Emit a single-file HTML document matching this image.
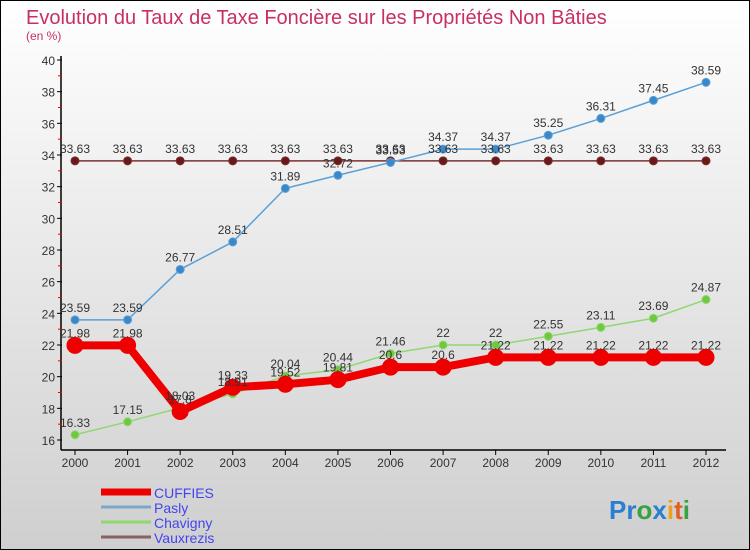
<!DOCTYPE html>
<html><head><meta charset="utf-8">
<style>
html,body{margin:0;padding:0}
body{width:750px;height:550px;overflow:hidden;font-family:"Liberation Sans",sans-serif}
#wrap{position:relative;width:748px;height:548px;border:1px solid #000;background:linear-gradient(#ffffff,#cfcfcf)}
svg{position:absolute;left:0;top:0}
</style></head><body>
<div id="wrap">
<svg id="chart" width="748" height="548">
<text x="25" y="23" font-size="20" fill="#c8305f">Evolution du Taux de Taxe Foncière sur les Propriétés Non Bâties</text>
<text x="25" y="39" font-size="12" fill="#c8305f">(en %)</text>
<text x="608" y="518" font-size="26" font-weight="bold"><tspan fill="#2a7fd0">Pr</tspan><tspan fill="#3aa040">o</tspan><tspan fill="#2a7fd0">x</tspan><tspan fill="#f0a020">i</tspan><tspan fill="#e06020">t</tspan><tspan fill="#3aa040">i</tspan></text>
</svg>
</div>
<script>
const years=[2000,2001,2002,2003,2004,2005,2006,2007,2008,2009,2010,2011,2012];
const yTicks=[16,18,20,22,24,26,28,30,32,34,36,38,40];
const cuffies=[21.98,21.98,17.8,19.33,19.52,19.81,20.6,20.6,21.22,21.22,21.22,21.22,21.22];
const pasly=[23.59,23.59,26.77,28.51,31.89,32.72,33.53,34.37,34.37,35.25,36.31,37.45,38.59];
const chavigny=[16.33,17.15,18.03,18.91,20.04,20.44,21.46,22,22,22.55,23.11,23.69,24.87];
const vauxrezis=[33.63,33.63,33.63,33.63,33.63,33.63,33.63,33.63,33.63,33.63,33.63,33.63,33.63];
const seriesNames=["CUFFIES","Pasly","Chavigny","Vauxrezis"];

const svg=document.getElementById('chart');
const NS="http://www.w3.org/2000/svg";
const X0=74,X1=705,Y40=59,Y16=439;
function xs(i){return X0+(X1-X0)*i/(years.length-1);}
function ys(v){return Y16-(v-16)*(Y16-Y40)/24;}
function mk(tag,a){const e=document.createElementNS(NS,tag);for(const k in a)e.setAttribute(k,a[k]);svg.appendChild(e);return e;}

// axes
let ax=mk('line',{x1:60,y1:55,x2:60,y2:449,stroke:'#000','stroke-width':1.5});


let bx=mk('line',{x1:60,y1:449,x2:725,y2:449,stroke:'#000','stroke-width':1.5});


yTicks.forEach(v=>{
  const y=ys(v);
  mk('line',{x1:56,y1:y,x2:61,y2:y,stroke:'#000'});
  if(v<40)mk('line',{x1:57,y1:ys(v+1),x2:61,y2:ys(v+1),stroke:'#e00'});
  const t=mk('text',{x:54,y:y+5,'font-size':12,fill:'#333','text-anchor':'end'});
  t.textContent=v;
  
  
});
years.forEach((yr,i)=>{
  mk('line',{x1:xs(i),y1:449,x2:xs(i),y2:454,stroke:'#000'});
  const t=mk('text',{x:xs(i),y:466,'font-size':12,fill:'#333','text-anchor':'middle'});
  t.textContent=yr;
  
  
});

function draw(data,color,dot,w,r,name){
  const pl=mk('polyline',{points:data.map((v,i)=>xs(i)+','+ys(v)).join(' '),fill:'none',stroke:color,'stroke-width':w,'stroke-linejoin':'round'});
  
  
  data.forEach((v,i)=>{
    const c=mk('circle',{cx:xs(i),cy:ys(v),r:r,fill:dot,stroke:color,'stroke-width':1});
    
    
  });
}
function labels(data,name){
  data.forEach((v,i)=>{
    const t=mk('text',{x:xs(i),y:ys(v)-8,'font-size':12,fill:'#333','text-anchor':'middle'});
    t.textContent=v;
    
    
  });
}
draw(vauxrezis,'#7a3030','#6a1818',1.5,4,'vauxrezis');
draw(pasly,'#5aa0d8','#3a88c8',1.5,4,'pasly');
draw(chavigny,'#90d870','#70c840',1.5,4,'chavigny');
draw(cuffies,'#ee0000','#ee0000',8,8,'cuffies');
labels(vauxrezis,'vauxrezis');labels(pasly,'pasly');labels(chavigny,'chavigny');labels(cuffies,'cuffies');

// legend
const legColors=['#ee0000','#7aa8cc','#90d870','#8a6060'];
const legW=[7,3,3,3];
seriesNames.forEach((n,i)=>{
  const y=491+i*15;
  const l=mk('line',{x1:100,y1:y,x2:150,y2:y,stroke:legColors[i],'stroke-width':legW[i]});
  
  
  const t=mk('text',{x:153,y:y+6,'font-size':14,fill:'#4444ee'});
  t.textContent=n;
  
  
});
</script>
</body></html>
